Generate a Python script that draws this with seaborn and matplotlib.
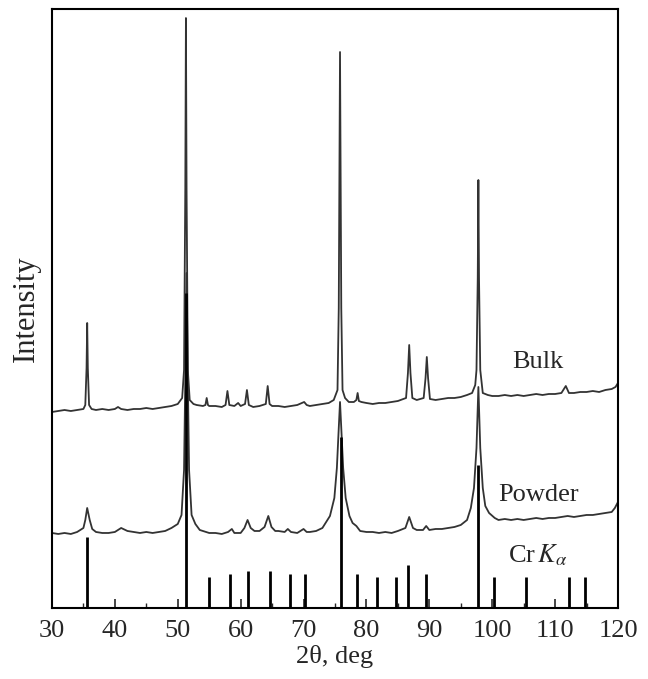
import matplotlib
matplotlib.use("Agg")
from matplotlib import pyplot as plt
from matplotlib.ticker import MultipleLocator
import seaborn as sns
import pandas as pd

# Bulk trace (2theta, intensity)
bulk_deg = [30, 31, 32, 33, 34, 35, 35.3, 35.5, 35.6, 35.7, 35.9, 36.3, 37, 38, 39, 40, 40.5, 41,
            42, 43, 44, 45, 46, 47, 48, 49, 50, 50.7, 51.0, 51.2, 51.3, 51.4, 51.6, 51.9, 52.5, 53,
            54, 54.4, 54.6, 54.8, 55, 56, 57, 57.6, 57.9, 58.2, 59, 59.6, 60, 60.7, 61.0, 61.3, 62,
            63, 64.0, 64.3, 64.6, 65, 66, 67, 68, 69, 70.1, 70.5, 71, 72, 73, 74, 74.8, 75.4, 75.6,
            75.8, 76.0, 76.2, 76.6, 77.2, 78, 78.4, 78.6, 78.8, 79.2, 80, 81, 82, 83, 84, 85, 86.3,
            86.6, 86.8, 87.0, 87.3, 88, 89.1, 89.4, 89.6, 89.8, 90.1, 91, 92, 93, 94, 95, 96, 96.8,
            97.3, 97.5, 97.7, 97.8, 97.9, 98.1, 98.5, 99.3, 100, 101, 102, 103, 104, 105, 106, 107,
            108, 109, 110, 111, 111.7, 112.2, 113, 114, 115, 116, 117, 118, 119, 119.6, 120]
bulk_int = [196, 197, 198, 197, 198, 199, 203, 240, 285, 240, 203, 199, 198, 199, 198, 199, 201, 199,
            198, 199, 199, 200, 199, 200, 201, 202, 204, 210, 238, 420, 590, 420, 238, 208, 204, 203,
            202, 203, 210, 203, 202, 202, 201, 203, 217, 203, 202, 205, 202, 204, 218, 203, 201,
            202, 204, 222, 204, 202, 202, 201, 202, 203, 206, 203, 202, 203, 204, 205, 208, 218, 300,
            556, 300, 218, 210, 206, 206, 208, 215, 207, 206, 205, 204, 205, 205, 206, 207, 210,
            235, 263, 235, 210, 208, 210, 230, 251, 230, 209, 208, 209, 210, 210, 211, 213, 215,
            223, 238, 330, 428, 330, 238, 215, 213, 212, 212, 213, 212, 213, 212, 213, 214,
            213, 214, 214, 215, 222, 215, 215, 216, 216, 217, 216, 218, 219, 221, 225]

# Powder trace
powder_deg = [30, 31, 32, 33, 34, 35, 35.3, 35.6, 36.0, 36.4, 37, 38, 39, 40, 41, 42, 43, 44, 45, 46,
              47, 48, 49, 50, 50.6, 51.0, 51.2, 51.4, 51.6, 51.8, 52.2, 52.8, 53.5, 54.5, 55, 56, 57,
              58, 58.6, 59, 60, 60.6, 61.1, 61.6, 62.2, 63, 63.8, 64.4, 64.9, 65.5, 66, 67, 67.5, 68,
              69, 70, 70.5, 71, 72, 73, 74.2, 74.9, 75.3, 75.6, 75.8, 76.0, 76.3, 76.7, 77.3, 77.8,
              78.4, 79, 80, 81, 82, 83, 84, 85, 86.2, 86.8, 87.4, 88, 89, 89.5, 90, 91, 92, 93, 94,
              95, 96, 96.6, 97.1, 97.5, 97.8, 98.1, 98.5, 98.9, 99.5, 100.4, 101, 102, 103, 104, 105,
              106, 107, 108, 109, 110, 111, 112, 113, 114, 115, 116, 117, 118, 119, 119.5, 120]
powder_int = [75, 74, 75, 74, 76, 80, 88, 100, 88, 79, 76, 75, 75, 76, 80, 77, 76, 75, 76, 75,
              76, 77, 80, 84, 93, 138, 230, 335, 230, 138, 93, 84, 78, 76, 75, 75, 74,
              76, 79, 75, 75, 80, 88, 80, 77, 77, 81, 92, 81, 77, 77, 76, 79, 76,
              75, 79, 76, 76, 77, 80, 92, 110, 140, 180, 206, 180, 140, 110, 92, 85,
              82, 77, 76, 76, 75, 76, 75, 77, 80, 91, 80, 78, 78, 82, 78, 79, 79, 80, 81,
              83, 88, 100, 120, 160, 221, 160, 120, 102, 95, 90, 88, 89, 88, 89, 88,
              89, 90, 89, 90, 90, 91, 92, 91, 92, 93, 93, 94, 95, 96, 100, 106]

# Cr K-alpha reference lines
stick_deg = [35.6, 51.3, 54.9, 58.3, 61.1, 64.7, 67.9, 70.2, 75.9, 78.5, 81.7, 84.7, 86.6, 89.4,
             97.8, 100.3, 105.3, 112.2, 114.8]
stick_int = [71, 315, 31, 34, 37, 37, 34, 34, 171, 34, 31, 31, 43, 34, 143, 31, 31, 31, 31]

bulk = pd.DataFrame({"deg": bulk_deg, "I": bulk_int})
powder = pd.DataFrame({"deg": powder_deg, "I": powder_int})

sns.set_style("ticks")
plt.rcParams["font.family"] = ["Liberation Serif", "DejaVu Serif"]
plt.rcParams["mathtext.fontset"] = "stix"

fig = plt.figure(figsize=(6.48, 6.79), dpi=100)
ax = fig.add_axes([0.0802, 0.1046, 0.8735, 0.8821])

sns.lineplot(data=bulk, x="deg", y="I", ax=ax, color="#333333", lw=1.3, estimator=None)
sns.lineplot(data=powder, x="deg", y="I", ax=ax, color="#333333", lw=1.3, estimator=None)
ax.vlines(stick_deg, 0, stick_int, color="black", lw=2.0)

ax.set_xlim(30, 120)
ax.set_ylim(0, 599)
ax.xaxis.set_major_locator(MultipleLocator(10))
ax.xaxis.set_minor_locator(MultipleLocator(5))
ax.tick_params(axis="x", which="major", direction="in", length=6.5, width=1.2, labelsize=19, pad=9)
ax.tick_params(axis="x", which="minor", direction="in", length=3.5, width=1.0)
ax.set_yticks([])
for s in ax.spines.values():
    s.set_linewidth(1.5)
    s.set_color("black")

ax.set_xlabel("2θ, deg", fontsize=19, labelpad=2)
ax.set_ylabel("Intensity", fontsize=22, labelpad=8)

ax.text(107.3, 246, "Bulk", fontsize=19, ha="center", va="center")
ax.text(107.3, 113, "Powder", fontsize=19, ha="center", va="center")
ax.text(107.3, 53, r"Cr$\,K_\alpha$", fontsize=19, ha="center", va="center")

fig.savefig("out.png", dpi=100)
